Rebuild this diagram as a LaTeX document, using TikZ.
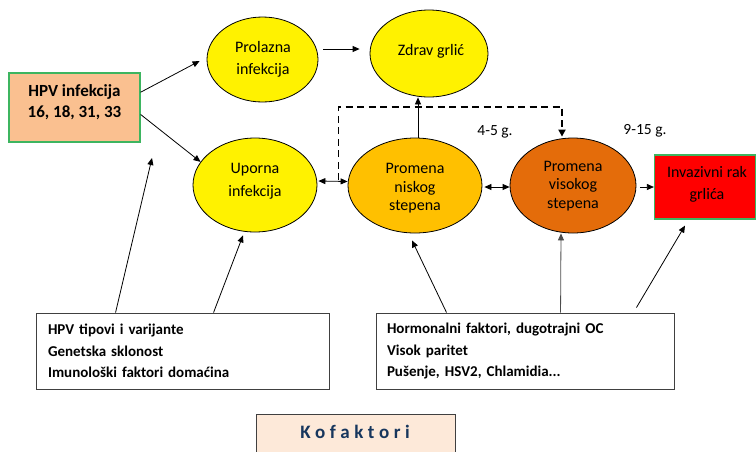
\documentclass[tikz,border=0pt]{standalone}
\usepackage{fontspec}
\setmainfont{Carlito}
\usetikzlibrary{arrows.meta,calc,shapes.geometric}
\definecolor{hpvfill}{HTML}{FAC090}
\definecolor{boxgreen}{HTML}{3DB560}
\definecolor{lowfill}{HTML}{FFC000}
\definecolor{highfill}{HTML}{E46C0A}
\definecolor{rakfill}{HTML}{FF0000}
\definecolor{kofill}{HTML}{FDE9D9}
\definecolor{kotext}{HTML}{17365D}
\begin{document}
\begin{tikzpicture}[x=1pt,y=-1pt,
  txt/.style={inner sep=0pt,align=center,font=\fontsize{16}{18.5}\selectfont},
  oval/.style={ellipse,draw=black,line width=0.8pt,inner sep=0pt},
  arr/.style={-{Triangle[length=7pt,width=6pt]},line width=0.8pt},
  darr/.style={{Triangle[length=7pt,width=6pt]}-{Triangle[length=7pt,width=6pt]},line width=0.8pt},
  factbox/.style={draw=black!75,line width=0.9pt,minimum height=76pt,inner ysep=0pt,align=left,
    font=\bfseries\fontsize{15}{21.5}\selectfont},
  greenbox/.style={draw=boxgreen,line width=1.2pt,inner sep=0pt}]
\useasboundingbox (0,0) rectangle (756,451);

% boxes and ellipses
\node[greenbox, fill=hpvfill, minimum width=131pt, minimum height=69pt] (hpv) at (74.5,107.5) {};
\node[txt, font=\bfseries\fontsize{17}{21}\selectfont] (hpvt) at (74.5,102.5) {HPV infekcija\\16, 18, 31, 33};

\node[oval, fill=yellow, minimum width=111pt, minimum height=85pt] (prol) at (262.5,59.5) {};
\node[txt, font=\fontsize{16}{22}\selectfont] (prolt) at (263,59) {Prolazna\\infekcija};

\node[oval, fill=yellow, minimum width=118pt, minimum height=87pt] (zdrav) at (429,53.5) {};
\node[txt] (zdravt) at (431,51) {Zdrav grlić};

\node[oval, fill=yellow, minimum width=124pt, minimum height=94pt] (uporna) at (255,185) {};
\node[txt, font=\fontsize{16}{23}\selectfont] (upornat) at (255,181.5) {Uporna\\infekcija};

\node[oval, fill=lowfill, minimum width=134pt, minimum height=95pt] (niskog) at (415,185.5) {};
\node[txt] (niskogt) at (415,188.5) {Promena\\niskog\\stepena};

\node[oval, fill=highfill, minimum width=126pt, minimum height=95pt] (visokog) at (573,185.5) {};
\node[txt] (visokogt) at (573,185.7) {Promena\\visokog\\stepena};

\node[greenbox, fill=rakfill, minimum width=101pt, minimum height=64pt] (rak) at (705,187) {};
\node[txt, font=\fontsize{16}{22}\selectfont] (rakt) at (707,184) {Invazivni rak\\grlića};

\node[txt, font=\fontsize{15.5}{18}\selectfont] (t45) at (495,132) {4-5 g.};
\node[txt, font=\fontsize{15.5}{18}\selectfont] (t915) at (645,131) {9-15 g.};

\node[factbox, inner xsep=12pt, text width=269pt] (lbox) at (182.5,351)
  {HPV tipovi i varijante\\Genetska sklonost\\Imunološki faktori domaćina};
\node[factbox, inner xsep=11pt, text width=276pt] (rbox) at (525,351)
  {Hormonalni faktori, dugotrajni OC\\Visok paritet\\Pušenje, HSV2, Chlamidia...};

\node[draw=black!75, fill=kofill, line width=0.9pt, minimum width=199pt, minimum height=44pt, inner sep=0pt] (kof) at (355.5,436) {};
\node[txt, font=\bfseries\fontsize{19}{22}\selectfont, text=kotext] (koft) at (355,432)
  {K\kern4.5pt o\kern4.5pt f\kern4.5pt a\kern4.5pt k\kern4.5pt t\kern4.5pt o\kern4.5pt r\kern4.5pt i};

% free end below HPV box
\coordinate (free1) at (152,158);

% connectors
\draw[arr] (hpv.13) -- ($(prol.west)+(-7,1.5)$);
\draw[arr] (hpv.-6.5) -- (uporna.157);
\draw[arr] ($(prol.east)+(5,-10.5)$) -- ($(zdrav.west)+(-10,-4.5)$);
\draw[arr] ($(niskog.north)+(3,0)$) -- ($(zdrav.south)+(-11,0)$);
\draw[darr] ($(uporna.east)+(1,-4)$) -- ($(niskog.west)+(0,-4)$);
\draw[darr] ($(niskog.east)+(2,1.5)$) -- ($(visokog.west)+(0,1.5)$);
\draw[arr] ($(visokog.east)+(4,1.5)$) -- (rak.west);

\coordinate (dj) at ($(uporna.east)+(21,-5)$);
\draw[line width=1.8pt, dash pattern=on 7pt off 4.5pt, -{Triangle[length=7pt,width=7pt]}]
  (dj) |- ($(visokog.north)+(-11,-31)$) -- ($(visokog.north)+(-11,-1)$);

\draw[arr] ($(lbox.north west)+(80,0)$) -- (free1);
\draw[arr] ($(lbox.north west)+(178,0)$) -- ($(uporna.south)+(-12,3)$);
\draw[arr] ($(rbox.north west)+(71,0)$) -- ($(niskog.south)+(-3,7)$);
\draw[arr, draw=black!70] ($(rbox.north west)+(185,0)$) -- ($(visokog.south)+(-12,0)$);
\draw[arr] ($(rbox.north east)+(-38,-5)$) -- ($(rak.south)+(-20,6)$);
\end{tikzpicture}
\end{document}
